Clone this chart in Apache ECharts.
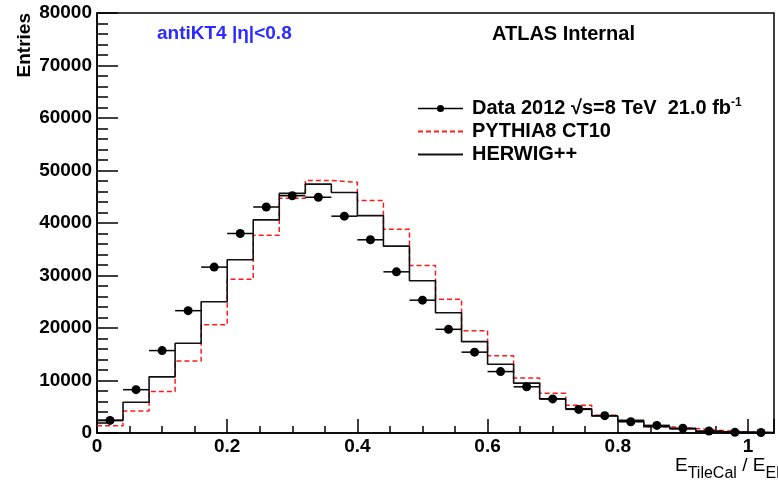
<!DOCTYPE html>
<html>
<head>
<meta charset="utf-8">
<script src="https://cdn.jsdelivr.net/npm/echarts@6/dist/echarts.min.js"></script>
<style>
  html, body { margin: 0; padding: 0; background: #fff; }
  #chart { width: 778px; height: 487px; }
</style>
</head>
<body>
<div id="chart"></div>
<script type="text/javascript">
// bins of 0.04 in E_TileCal / E_EM, starting at 0
const binWidth = 0.04
const dataValues = [2400, 8250, 15700, 23300, 31600, 38000, 43050, 45200, 44900, 41300, 36800, 30700, 25300,
    19750, 15400, 11700, 8800, 6500, 4500, 3300, 2150, 1450, 900, 380, 130, 100]
const pythiaValues = [1400, 4200, 7900, 13700, 20600, 29300, 37650, 44700, 48100, 47750, 44300, 38800, 31900,
    25500, 19500, 14700, 10500, 7550, 5300, 3400, 2200, 1200, 850, 500, 200, 50]
const herwigValues = [2400, 5850, 10700, 17100, 25000, 33000, 40600, 45650, 47400, 45800, 41400, 35600, 29000,
    22900, 17400, 13100, 9500, 6500, 4600, 3250, 2400, 1200, 750, 250, 200, 50]
const xTickLabels = ['0', '0.2', '0.4', '0.6', '0.8', '1']
const xMax = 1.04

// histogram outline: one point per low edge plus the last high edge
function stepPoints (values) {
    const pts = values.map((v, i) => [i * binWidth, v])
    pts.push([values.length * binWidth, values[values.length - 1]])
    return pts
}
const dataPoints = dataValues.map((v, i) => [(i + 0.5) * binWidth, v])

const font = 'Liberation Sans, Arial, sans-serif'

const option = {
    animation: false,
    grid: {
        left: 97,
        right: 4,
        top: 13,
        bottom: 54,
        show: true,
        borderColor: '#000',
        borderWidth: 1.5
    },
    legend: {
        orient: 'vertical',
        left: 417,
        top: 97,
        padding: 0,
        itemGap: 0,
        itemWidth: 45,
        itemHeight: 9,
        selectedMode: false,
        textStyle: {
            fontFamily: font,
            fontSize: 20,
            fontWeight: 'bold',
            color: '#000',
            lineHeight: 23,
            padding: [0, 0, 0, 4],
            rich: {
                b: { fontFamily: font, fontSize: 20, fontWeight: 'bold', color: '#000', lineHeight: 23 },
                sup: { fontFamily: font, fontSize: 12, fontWeight: 'bold', color: '#000', lineHeight: 6, verticalAlign: 'top' }
            }
        },
        formatter: function (name) {
            if (name === 'Data') return '{b|Data 2012 √s=8 TeV  21.0 fb}{sup|-1}'
            return '{b|' + name + '}'
        },
        data: [
            { name: 'Data', lineStyle: { opacity: 1, width: 1.5, color: '#000' } },
            { name: 'PYTHIA8 CT10', itemStyle: { opacity: 0 } },
            { name: 'HERWIG++', itemStyle: { opacity: 0 } }
        ]
    },
    xAxis: [{
        type: 'value',
        position: 'bottom',
        min: 0,
        max: xMax,
        interval: 0.2,
        axisLine: { show: true, lineStyle: { color: '#000', width: 1.5 } },
        axisTick: { show: true, inside: true, length: 14, lineStyle: { color: '#000', width: 1.5 } },
        axisLabel: {
            margin: 4,
            fontFamily: font,
            fontSize: 19,
            fontWeight: 'bold',
            color: '#000',
            formatter: function (v) {
                const k = Math.round(v / 0.2)
                return Math.abs(v - k * 0.2) < 1e-6 && k < xTickLabels.length ? xTickLabels[k] : ''
            }
        },
        splitLine: { show: false }
    }, {
        // minor ticks every 0.05
        type: 'value',
        position: 'bottom',
        min: 0,
        max: xMax,
        interval: 0.05,
        axisLine: { show: false },
        axisTick: { show: true, inside: true, length: 7, lineStyle: { color: '#000', width: 1.5 } },
        axisLabel: { show: false },
        splitLine: { show: false }
    }],
    yAxis: {
        type: 'value',
        min: 0,
        max: 80000,
        interval: 10000,
        axisLine: { show: true, lineStyle: { color: '#000', width: 1.5 } },
        axisTick: { show: true, inside: true, length: 21, lineStyle: { color: '#000', width: 1.5 } },
        minorTick: { show: true, splitNumber: 5, length: 11, lineStyle: { color: '#000', width: 1.5 } },
        axisLabel: {
            margin: 5,
            fontFamily: font,
            fontSize: 19,
            fontWeight: 'bold',
            color: '#000',
            formatter: v => String(v)
        },
        splitLine: { show: false }
    },
    graphic: [
        {
            type: 'text', x: 25, y: 13, rotation: Math.PI / 2,
            style: { text: 'Entries', font: 'bold 19px ' + font, fill: '#000', align: 'right', verticalAlign: 'middle' }
        },
        {
            type: 'text', x: 157, y: 34,
            style: { text: 'antiKT4 |η|<0.8', font: 'bold 19px ' + font, fill: '#2b2bff', align: 'left', verticalAlign: 'middle' }
        },
        {
            type: 'text', x: 492, y: 34,
            style: { text: 'ATLAS Internal', font: 'bold 20px ' + font, fill: '#000', align: 'left', verticalAlign: 'middle' }
        },
        {
            type: 'text', x: 675, y: 456,
            style: {
                text: '{n|E}{s|TileCal}{n| / E}{s|EM}',
                align: 'left',
                verticalAlign: 'top',
                rich: {
                    n: { fontFamily: font, fontSize: 19, color: '#000', lineHeight: 26, verticalAlign: 'top' },
                    s: { fontFamily: font, fontSize: 16, color: '#000', verticalAlign: 'bottom' }
                }
            }
        }
    ],
    series: [
        {
            name: 'PYTHIA8 CT10',
            type: 'line',
            step: 'end',
            symbol: 'none',
            lineStyle: { color: '#ff1a1a', width: 1.5, type: [5, 3] },
            itemStyle: { color: '#ff1a1a' },
            z: 2,
            data: stepPoints(pythiaValues)
        },
        {
            name: 'HERWIG++',
            type: 'line',
            step: 'end',
            symbol: 'none',
            lineStyle: { color: '#111', width: 1.6 },
            itemStyle: { color: '#111' },
            z: 3,
            data: stepPoints(herwigValues)
        },
        {
            name: 'DataErr',
            type: 'custom',
            z: 4,
            renderItem: function (params, api) {
                const a = api.coord([api.value(0) - binWidth / 2, api.value(1)])
                const b = api.coord([api.value(0) + binWidth / 2, api.value(1)])
                return {
                    type: 'line',
                    shape: { x1: a[0], y1: a[1], x2: b[0], y2: b[1] },
                    style: { stroke: '#000', lineWidth: 1.5 }
                }
            },
            data: dataPoints
        },
        {
            name: 'Data',
            type: 'line',
            symbol: 'circle',
            symbolSize: 9,
            showAllSymbol: true,
            lineStyle: { opacity: 0 },
            itemStyle: { color: '#000' },
            z: 5,
            data: dataPoints
        }
    ]
}

const chart = echarts.init(document.getElementById('chart'))
chart.setOption(option)
window.addEventListener('resize', () => chart.resize())
</script>
</body>
</html>
